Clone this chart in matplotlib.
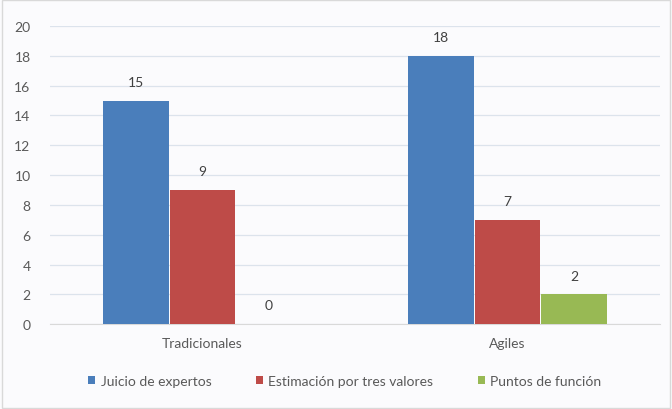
import matplotlib
matplotlib.use("Agg")
import matplotlib.pyplot as plt
import numpy as np

plt.rcParams['font.family'] = ['Lato', 'DejaVu Sans']

categories = ["Tradicionales", "Agiles"]
series_names = ["Juicio de expertos", "Estimación por tres valores", "Puntos de función"]
juicio = [15, 18]
estimacion = [9, 7]
puntos = [0, 2]
yticks = [0, 2, 4, 6, 8, 10, 12, 14, 16, 18, 20]

colors = ["#4A7EBB", "#BE4B48", "#98B954"]
values = [juicio, estimacion, puntos]

fig = plt.figure(figsize=(6.72, 4.10), dpi=100)
fig.patch.set_facecolor("#FBFBFD")
ax = fig.add_axes([0.0744, 0.207, 0.9076, 0.727])
ax.set_facecolor("#FBFBFD")

x = np.arange(len(categories))
w = 0.218
for i, (name, vals, c) in enumerate(zip(series_names, values, colors)):
    pos = x + (i - 1) * w
    ax.bar(pos, vals, width=w * 0.99, color=c, label=name, zorder=3)
    for p, v in zip(pos, vals):
        ax.text(p, v + 0.85, str(v), ha="center", va="bottom", fontsize=10, color="#404040")

ax.set_xlim(-0.5, 1.5)
ax.set_ylim(0, 20)
ax.set_yticks(yticks)
ax.set_xticks(x)
ax.set_xticklabels(categories)
ax.tick_params(axis="both", length=0, labelsize=10, colors="#595959")
ax.tick_params(axis="y", pad=14)
ax.tick_params(axis="x", pad=9)
ax.grid(axis="y", color="#DCE3EC", linewidth=0.9, zorder=0)
for s in ["top", "right", "left"]:
    ax.spines[s].set_visible(False)
ax.spines["bottom"].set_color("#D9D9D9")

leg = fig.legend(loc="center", bbox_to_anchor=(0.513, 0.068), ncol=3, frameon=False,
                 fontsize=10, handlelength=0.5, handleheight=0.5, columnspacing=3.2,
                 handletextpad=0.4)
for t in leg.get_texts():
    t.set_color("#595959")

border = plt.Rectangle((0.003, 0.003), 0.994, 0.994, transform=fig.transFigure,
                       fill=False, edgecolor="#D9D9D9", linewidth=1.0)
fig.patches.append(border)

fig.savefig("out.png", dpi=100, facecolor=fig.get_facecolor())
